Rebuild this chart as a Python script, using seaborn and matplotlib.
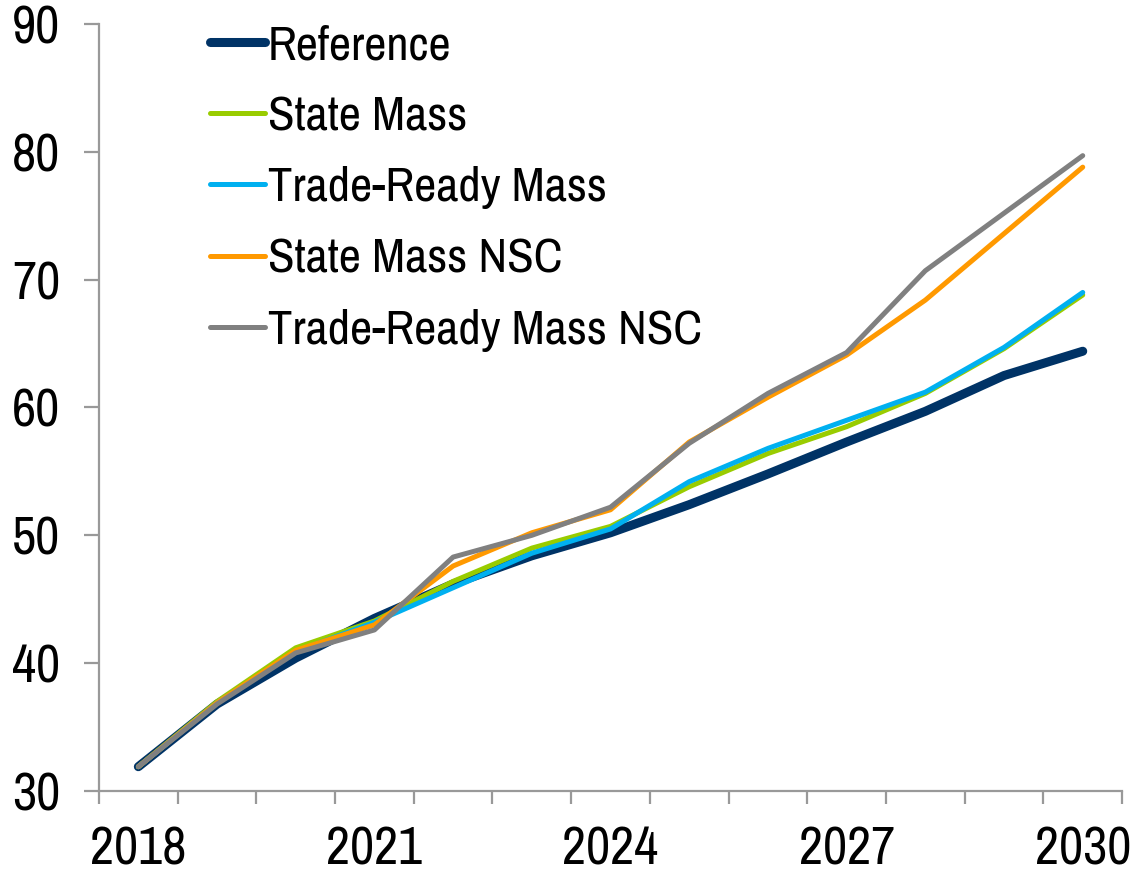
import numpy as np
import pandas as pd
import seaborn as sns
import matplotlib.pyplot as plt

years = list(range(2018, 2031))
reference = [31.9, 36.8, 40.4, 43.5, 46.2, 48.4, 50.2, 52.4, 54.8, 57.3, 59.7, 62.5, 64.4]
state_mass = [31.9, 37.0, 41.2, 43.3, 46.4, 49.0, 50.7, 53.8, 56.4, 58.5, 61.1, 64.6, 68.8]
trade_ready_mass = [31.9, 36.9, 40.9, 43.2, 45.9, 48.6, 50.5, 54.2, 56.8, 59.0, 61.2, 64.7, 69.0]
state_mass_nsc = [31.9, 36.9, 41.0, 43.0, 47.6, 50.2, 52.0, 57.3, 60.8, 64.1, 68.4, 73.6, 78.8]
trade_ready_mass_nsc = [31.9, 36.8, 40.8, 42.6, 48.3, 50.0, 52.2, 57.2, 61.1, 64.3, 70.7, 75.2, 79.7]

series_names = ["Reference", "State Mass", "Trade-Ready Mass", "State Mass NSC", "Trade-Ready Mass NSC"]
series_values = [reference, state_mass, trade_ready_mass, state_mass_nsc, trade_ready_mass_nsc]
colors = ["#003366", "#99CC00", "#00B0F0", "#FF9900", "#808080"]
widths = [6.5, 3.6, 3.6, 3.6, 3.6]

df = pd.DataFrame({
    "pos": np.tile(np.arange(len(years)), len(series_names)),
    "value": np.concatenate(series_values),
    "series": np.repeat(series_names, len(years)),
})

sns.set_style("white")
plt.rcParams["font.family"] = ["Archivo Narrow", "DejaVu Sans"]
plt.rcParams["text.color"] = "black"
plt.rcParams["xtick.labelcolor"] = "black"
plt.rcParams["ytick.labelcolor"] = "black"

fig = plt.figure(figsize=(11.3, 8.72), dpi=100)
ax = fig.add_axes([0.0876, 0.0929, 0.9054, 0.8796])

for name, c, w in zip(series_names, colors, widths):
    sns.lineplot(data=df[df["series"] == name], x="pos", y="value", color=c,
                 linewidth=w, label=name, ax=ax, solid_capstyle="round")

ax.set_xlim(-0.5, len(years) - 0.5)
ax.set_ylim(30, 90)
ax.set_yticks(range(30, 91, 10))
ax.set_xticks([0, 3, 6, 9, 12])
ax.set_xticklabels([str(years[i]) for i in [0, 3, 6, 9, 12]])
ax.set_xticks(np.arange(-0.5, len(years)), minor=True)
ax.set_xlabel("")
ax.set_ylabel("")

for s in ["top", "right"]:
    ax.spines[s].set_visible(False)
for s in ["left", "bottom"]:
    ax.spines[s].set_color("#999999")
    ax.spines[s].set_linewidth(1.6)

ax.tick_params(axis="y", which="major", direction="out", length=11, width=1.6,
               color="#999999", labelsize=38, pad=17, left=True)
ax.tick_params(axis="x", which="major", length=0, labelsize=38, pad=25)
ax.tick_params(axis="x", which="minor", direction="out", length=9, width=1.6,
               color="#999999", bottom=True)

leg = ax.legend(loc="upper left", bbox_to_anchor=(0.066, 1.057), frameon=False,
                fontsize=35, handlelength=1.13, handletextpad=0.05, labelspacing=0.58)
for line in leg.get_lines():
    line.set_solid_capstyle("round")

fig.savefig("out.png", dpi=100)
